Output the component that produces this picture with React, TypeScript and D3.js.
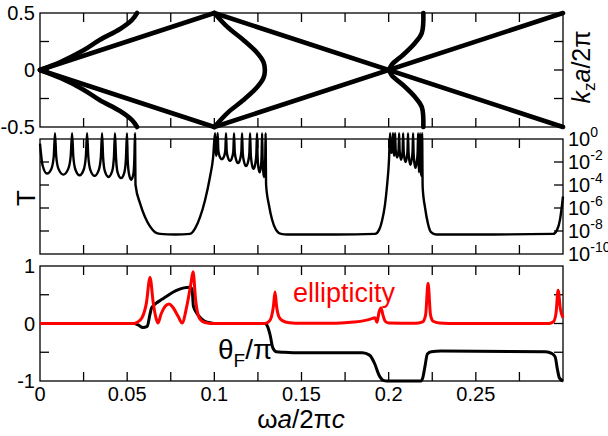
import React from "react";
import * as d3 from "d3";

// shared frequency axis (omega a / 2 pi c)
const freqLabels = [0, 0.05, 0.1, 0.15, 0.2, 0.25];
const freqMinor = [0.025, 0.05, 0.075, 0.1, 0.125, 0.15, 0.175, 0.2, 0.225, 0.25, 0.275];

// top panel: k_z a / 2pi
const kLabels = [0.5, 0, -0.5];
const kTicks = [-0.25, 0, 0.25];
const lightLines: [number, number][][] = [
  [[0, 0], [0.1, 0.5]],
  [[0, 0], [0.1, -0.5]],
  [[0.1, 0.5], [0.3, -0.5]],
  [[0.1, -0.5], [0.3, 0.5]],
];
const band1Up: [number, number][] = [
  [0, 0], [0.012, 0.072], [0.0247, 0.17], [0.0344, 0.265], [0.0459, 0.36], [0.0528, 0.44], [0.0557, 0.5],
];
const band1Down: [number, number][] = [
  [0, 0], [0.012, -0.072], [0.0247, -0.17], [0.0344, -0.265], [0.0459, -0.36], [0.0528, -0.44], [0.0557, -0.5],
];
const band2: [number, number][] = [
  [0.1, 0.5], [0.1073, 0.38], [0.1165, 0.266], [0.1245, 0.152], [0.1282, 0.07], [0.129, 0],
  [0.1282, -0.07], [0.1245, -0.152], [0.1165, -0.266], [0.1073, -0.38], [0.1, -0.5],
];
const band3: [number, number][] = [
  [0.2199, 0.5], [0.219, 0.325], [0.2151, 0.237], [0.2084, 0.134], [0.2018, 0.047], [0.2004, 0],
  [0.2018, -0.047], [0.2084, -0.134], [0.2151, -0.237], [0.219, -0.325], [0.2199, -0.5],
];

// middle panel: transmission, stored as log10(T)
const tDecades = [0, -2, -4, -6, -8, -10];
const tLog: [number, number][] = [
  [0, -0.4], [0.0015, -2.3], [0.004, -3.0], [0.0065, -2.6], [0.0079, -1.5], [0.0086, 0.5],
  [0.0093, -1.5], [0.0106, -2.6], [0.0134, -3.1], [0.0162, -2.6], [0.0176, -1.5], [0.0184, 0.5],
  [0.0191, -1.5], [0.0203, -2.65], [0.0227, -3.15], [0.0251, -2.65], [0.0263, -1.5], [0.027, 0.5],
  [0.0277, -1.5], [0.0289, -2.7], [0.0313, -3.2], [0.0337, -2.7], [0.0349, -1.6], [0.0356, 0.5],
  [0.0362, -1.6], [0.0372, -2.8], [0.0393, -3.3], [0.0414, -2.8], [0.0424, -1.6], [0.043, 0.5],
  [0.0436, -1.6], [0.0445, -2.9], [0.0465, -3.4], [0.0484, -2.9], [0.0493, -1.7], [0.0499, 0.5],
  [0.0503, -1.8], [0.051, -3.0], [0.0523, -3.55], [0.0536, -3.0], [0.0541, -1.8], [0.0545, 0.5],
  [0.0548, -4.0], [0.0574, -5.6], [0.0603, -6.8], [0.0631, -7.6], [0.066, -8.1], [0.0689, -8.25],
  [0.0775, -8.3], [0.0861, -8.25], [0.0889, -7.8], [0.0918, -6.8], [0.0947, -5.3], [0.0975, -3.3],
  [0.0993, -1.6], [0.1004, 0.5],
  [0.1007, -0.9], [0.1011, -1.45], [0.1015, -0.9], [0.1019, 0.5],
  [0.1023, -1.0], [0.103, -1.5], [0.1043, -1.75], [0.1056, -1.5], [0.1063, -1.0], [0.1067, 0.5],
  [0.1071, -1.05], [0.1078, -1.6], [0.109, -1.9], [0.1102, -1.6], [0.1109, -1.05], [0.1113, 0.5],
  [0.1117, -1.1], [0.1124, -1.75], [0.1136, -2.1], [0.1148, -1.75], [0.1155, -1.1], [0.1159, 0.5],
  [0.1163, -1.2], [0.117, -1.95], [0.1182, -2.35], [0.1194, -1.95], [0.1201, -1.2], [0.1205, 0.5],
  [0.1209, -1.3], [0.1215, -2.15], [0.1225, -2.6], [0.1235, -2.15], [0.1241, -1.3], [0.1245, 0.5],
  [0.1248, -1.5], [0.1252, -2.4], [0.126, -2.9], [0.1267, -2.4], [0.1271, -1.5], [0.1274, 0.5],
  [0.1277, -1.7], [0.128, -2.7], [0.1284, -3.3], [0.1289, -2.7], [0.1292, -1.7], [0.1294, 0.5],
  [0.1297, -4.0], [0.1314, -5.8], [0.1331, -7.0], [0.1354, -7.9], [0.1383, -8.25], [0.142, -8.3],
  [0.17, -8.3], [0.1922, -8.25], [0.1945, -7.9], [0.1962, -7.1], [0.1979, -5.7], [0.1991, -4.0],
  [0.2002, -1.8], [0.2008, 0.5],
  [0.2011, -0.7], [0.2016, -1.2], [0.2021, -0.7], [0.2025, 0.5],
  [0.2028, -0.9], [0.2031, -1.45], [0.2034, -0.9], [0.2037, 0.5],
  [0.204, -0.9], [0.2043, -1.3], [0.2048, -1.6], [0.2054, -1.3], [0.2057, -0.9], [0.206, 0.5],
  [0.2063, -1.0], [0.2066, -1.45], [0.2071, -1.8], [0.2077, -1.45], [0.208, -1.0], [0.2083, 0.5],
  [0.2086, -1.0], [0.209, -1.6], [0.2097, -2.0], [0.2104, -1.6], [0.2108, -1.0], [0.2111, 0.5],
  [0.2114, -1.1], [0.2118, -1.8], [0.2125, -2.25], [0.2132, -1.8], [0.2137, -1.1], [0.214, 0.5],
  [0.2143, -1.2], [0.2147, -2.0], [0.2154, -2.5], [0.2161, -2.0], [0.2166, -1.2], [0.2169, 0.5],
  [0.2171, -1.6], [0.2174, -2.9], [0.2177, -1.6], [0.218, 0.5],
  [0.2183, -1.8], [0.2186, -3.2], [0.2189, -1.8], [0.2192, 0.5],
  [0.2195, -4.2], [0.2209, -6.0], [0.2226, -7.4], [0.2243, -8.1], [0.2272, -8.3],
  [0.26, -8.3], [0.2943, -8.25], [0.2966, -7.9], [0.2983, -7.0], [0.3, -5.0],
];

// bottom panel: ellipticity and Faraday rotation theta_F / pi
const rotLabels = [1, 0, -1];
const rotTicks = [-0.5, 0, 0.5];
const ellipticity: [number, number][] = [
  [0, 0], [0.054, 0], [0.0557, 0.02], [0.0585, 0.1], [0.061, 0.35], [0.0631, 0.8], [0.065, 0.35],
  [0.0665, 0.1], [0.0677, 0.01], [0.0695, 0.17], [0.0718, 0.3], [0.074, 0.34], [0.0765, 0.27],
  [0.0793, 0.12], [0.0815, 0.01], [0.0842, 0.3], [0.0866, 0.7], [0.0878, 0.9], [0.0893, 0.4],
  [0.091, 0.12], [0.093, 0.04], [0.096, 0.01], [0.1, 0],
  [0.129, 0], [0.1315, 0.04], [0.1328, 0.12], [0.1339, 0.3], [0.1348, 0.55], [0.1357, 0.3],
  [0.137, 0.12], [0.139, 0.05], [0.143, 0.015], [0.15, 0.003], [0.17, 0.006], [0.18, 0.025],
  [0.186, 0.05], [0.19, 0.08], [0.1922, 0.1], [0.1933, 0.02], [0.1945, 0.2], [0.1956, 0.27],
  [0.1967, 0.15], [0.198, 0.04], [0.2, 0.01], [0.215, 0.003], [0.2195, 0.03], [0.2212, 0.15],
  [0.2226, 0.7], [0.224, 0.15], [0.2255, 0.04], [0.229, 0.01], [0.24, 0], [0.292, 0],
  [0.2945, 0.03], [0.296, 0.18], [0.2972, 0.58], [0.2985, 0.25], [0.3, 0.1],
];
const faraday: [number, number][] = [
  [0, 0], [0.054, 0], [0.0565, -0.03], [0.059, -0.07], [0.0615, -0.05], [0.063, 0.15], [0.064, 0.27],
  [0.0665, 0.35], [0.07, 0.42], [0.074, 0.5], [0.078, 0.57], [0.0825, 0.62], [0.086, 0.63],
  [0.0872, 0.6], [0.088, 0.3], [0.0895, 0.2], [0.092, 0.1], [0.0945, 0.04], [0.098, 0.01], [0.102, 0],
  [0.129, 0], [0.1305, -0.05], [0.132, -0.2], [0.1335, -0.42], [0.1355, -0.49], [0.14, -0.5],
  [0.15, -0.51], [0.185, -0.51], [0.189, -0.55], [0.192, -0.7], [0.1945, -0.9], [0.197, -0.99],
  [0.199, -1], [0.2185, -1], [0.2195, -0.95], [0.2208, -0.75], [0.2222, -0.53], [0.2245, -0.49],
  [0.23, -0.48], [0.29, -0.49], [0.2935, -0.52], [0.2955, -0.58], [0.2968, -0.8], [0.298, -0.95],
  [0.3, -1],
];

const font = "'Liberation Sans', Arial, sans-serif";

export default function App() {
  const x = d3.scaleLinear().domain([0, 0.3]).range([40, 563]);
  const yK = d3.scaleLinear().domain([-0.5, 0.5]).range([127, 13]);
  const yT = d3.scaleLog().domain([1e-10, 1]).range([254, 139]);
  const yR = d3.scaleLinear().domain([-1, 1]).range([381, 266]);

  const bandLine = d3.line<[number, number]>()
    .x(d => x(d[0])).y(d => yK(d[1]))
    .curve(d3.curveCatmullRom.alpha(0.5));
  const tLine = d3.line<[number, number]>()
    .x(d => x(d[0])).y(d => yT(Math.pow(10, d[1])))
    .curve(d3.curveMonotoneX);
  const rLine = d3.line<[number, number]>()
    .x(d => x(d[0])).y(d => yR(d[1]))
    .curve(d3.curveMonotoneX);

  const panels = [
    { top: 13, bottom: 127, yTicks: kTicks.map(yK) },
    { top: 139, bottom: 254, yTicks: tDecades.slice(1, 5).map(e => yT(Math.pow(10, e))) },
    { top: 266, bottom: 381, yTicks: rotTicks.map(yR) },
  ];
  const L = 40, R = 563, tl = 9;

  return (
    <svg width={608} height={436}
      style={{ position: "absolute", left: 0, top: 0, background: "#fff", fontFamily: font }}>
      {/* frames and ticks */}
      {panels.map((p, i) => (
        <g key={i} stroke="#000" strokeWidth={1.3} fill="none">
          <rect x={L} y={p.top} width={R - L} height={p.bottom - p.top} />
          {freqMinor.map(f => (
            <g key={f}>
              <line x1={x(f)} x2={x(f)} y1={p.top} y2={p.top + tl} />
              <line x1={x(f)} x2={x(f)} y1={p.bottom} y2={p.bottom - tl} />
            </g>
          ))}
          {p.yTicks.map((yy, j) => (
            <g key={j}>
              <line x1={L} x2={L + tl} y1={yy} y2={yy} />
              <line x1={R} x2={R - tl} y1={yy} y2={yy} />
            </g>
          ))}
        </g>
      ))}

      {/* panel 1: bands */}
      <g fill="none" stroke="#000" strokeWidth={4.6} strokeLinecap="round" strokeLinejoin="round">
        {lightLines.map((l, i) => <path key={i} d={bandLine(l) || ""} />)}
        <path d={bandLine(band1Up) || ""} />
        <path d={bandLine(band1Down) || ""} />
        <path d={bandLine(band2) || ""} />
        <path d={bandLine(band3) || ""} />
      </g>
      {kLabels.map(v => (
        <text key={v} x={35} y={yK(v) + 7} fontSize={20} textAnchor="end">{v}</text>
      ))}
      <text transform="translate(590,67) rotate(-90)" fontSize={25} textAnchor="middle">
        <tspan fontStyle="italic">k</tspan>
        <tspan fontSize={17} dy={5}>z</tspan>
        <tspan dy={-5} fontStyle="italic">a</tspan>
        <tspan>/2π</tspan>
      </text>

      {/* panel 2: transmission */}
      <path d={tLine(tLog) || ""} fill="none" stroke="#000" strokeWidth={2.4} strokeLinejoin="round" />
      <text transform="translate(35,198) rotate(-90)" fontSize={26} textAnchor="middle">T</text>
      {tDecades.map(e => (
        <text key={e} x={568} y={yT(Math.pow(10, e)) + 7} fontSize={20}>
          10<tspan fontSize={14} dy={-9}>{e}</tspan>
        </text>
      ))}

      {/* panel 3: rotation and ellipticity */}
      <path d={rLine(faraday) || ""} fill="none" stroke="#000" strokeWidth={3} strokeLinejoin="round" />
      <path d={rLine(ellipticity) || ""} fill="none" stroke="#ff0000" strokeWidth={3} strokeLinejoin="round" />
      {rotLabels.map(v => (
        <text key={v} x={35} y={yR(v) + 7} fontSize={20} textAnchor="end">{v}</text>
      ))}
      <text x={293} y={302} fontSize={27} fill="#ff0000">ellipticity</text>
      <text x={218} y={359} fontSize={28}>
        θ<tspan fontSize={19} dy={8}>F</tspan><tspan dy={-8}>/π</tspan>
      </text>

      {/* x axis */}
      {freqLabels.map(f => (
        <text key={f} x={x(f)} y={401} fontSize={20} textAnchor="middle">{f}</text>
      ))}
      <text x={301} y={428} fontSize={26} textAnchor="middle">
        ω<tspan fontStyle="italic">a</tspan>/2π<tspan fontStyle="italic">c</tspan>
      </text>
    </svg>
  );
}
